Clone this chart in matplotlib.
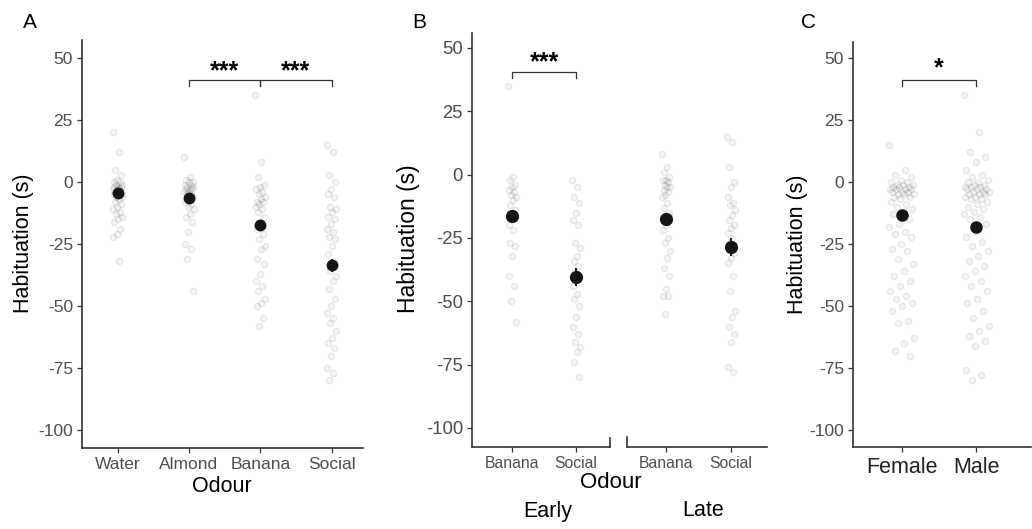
import numpy as np
import matplotlib
matplotlib.use("Agg")
import matplotlib.pyplot as plt

plt.rcParams["font.family"] = ["Liberation Sans", "DejaVu Sans"]
plt.rcParams["axes.unicode_minus"] = False

# ---- data ----
a_groups = ["Water", "Almond", "Banana", "Social"]
a_water = [20, 12, 5, 3, 1, 0, 0, -1, -1, -2, -2, -2, -3, -3, -3, -4, -4, -5, -5, -5,
           -6, -6, -7, -8, -9, -10, -11, -12, -13, -14, -15, -16, -19, -21, -22, -32]
a_almond = [10, 2, 1, 0, 0, -1, -1, -2, -2, -3, -3, -3, -4, -4, -5, -5, -6, -7, -8, -9,
            -10, -11, -13, -14, -16, -20, -25, -27, -31, -44]
a_banana = [35, 8, 2, -1, -2, -3, -4, -5, -6, -7, -8, -8, -9, -10, -11, -12, -14, -16,
            -19, -21, -23, -26, -27, -31, -33, -37, -40, -42, -44, -47, -49, -50, -55, -58]
a_social = [15, 12, 3, 0, -3, -5, -6, -10, -11, -12, -14, -15, -17, -19, -20, -22, -23,
            -26, -29, -32, -36, -38, -40, -43, -47, -50, -53, -55, -57, -60, -63, -65,
            -67, -70, -75, -77, -80]
a_means = [-4.6, -6.5, -17.3, -33.6]
a_err = [1.5, 1.5, 2.0, 2.5]

b_groups = ["Banana", "Social"]
b_early_banana = [35, -1, -2, -4, -5, -6, -7, -8, -9, -10, -12, -14, -17, -20, -22, -27,
                  -28, -32, -40, -44, -50, -58]
b_early_social = [-2, -5, -9, -11, -15, -18, -20, -27, -29, -32, -34, -36, -38, -44, -47,
                  -49, -52, -56, -60, -63, -66, -68, -70, -74, -80]
b_late_banana = [8, 3, 1, -1, -2, -2, -3, -4, -5, -5, -6, -7, -8, -9, -11, -13, -15, -20,
                 -22, -25, -27, -30, -33, -37, -40, -45, -48, -48, -55]
b_late_social = [15, 13, 3, -3, -5, -9, -11, -12, -14, -16, -18, -20, -21, -23, -25, -27,
                 -31, -33, -35, -40, -46, -54, -56, -60, -63, -66, -76, -78]
b_early_means = [-16.3, -40.3]
b_early_err = [2.5, 3.5]
b_late_means = [-17.6, -28.5]
b_late_err = [2.0, 3.5]

c_groups = ["Female", "Male"]
c_female = [15, 5, 3, 2, 1, 0, 0, -1, -1, -1, -2, -2, -2, -3, -3, -3, -3, -4, -4, -4,
            -5, -5, -5, -6, -6, -7, -8, -9, -10, -11, -12, -13, -15, -17, -18, -20, -21,
            -22, -25, -27, -28, -31, -33, -36, -38, -40, -42, -44, -46, -47, -49, -50,
            -52, -56, -57, -63, -65, -68, -70]
c_male = [35, 20, 12, 10, 8, 5, 3, 2, 1, 0, 0, -1, -1, -2, -2, -2, -3, -3, -3, -4, -4,
          -4, -5, -5, -5, -6, -6, -7, -7, -8, -9, -10, -11, -12, -13, -14, -15, -17, -20,
          -22, -24, -26, -28, -30, -32, -34, -36, -38, -40, -42, -44, -47, -49, -52, -55,
          -58, -60, -62, -64, -66, -76, -78, -80]
c_means = [-13.4, -18.2]
c_err = [1.5, 1.5]

yticks = [50, 25, 0, -25, -50, -75, -100]

# ---- layout helpers (pixel -> figure fraction) ----
W, H = 1032, 529
TICK_GREY = "#4d4d4d"
AX_GREY = "#333333"


def rect(l, r, t, b):
    return [l / W, 1 - b / H, (r - l) / W, (b - t) / H]


def fx(x):
    return x / W


def fy(y):
    return 1 - y / H


def style_axes(ax, xfs, yfs, left=True):
    for s in ["top", "right"]:
        ax.spines[s].set_visible(False)
    ax.spines["left"].set_visible(left)
    for s in ["left", "bottom"]:
        ax.spines[s].set_color(AX_GREY)
        ax.spines[s].set_linewidth(1.2)
    ax.tick_params(axis="x", colors=AX_GREY, labelcolor=TICK_GREY, labelsize=xfs,
                   length=3.5, width=0.9, pad=3)
    ax.tick_params(axis="y", colors=AX_GREY, labelcolor=TICK_GREY, labelsize=yfs,
                   length=3.5, width=0.9, pad=3, left=left, labelleft=left)
    ax.set_yticks(yticks)


def jitter_points(ax, groups_vals, width, ms):
    for i, vals in enumerate(groups_vals):
        n = len(vals)
        offs = ((np.arange(n) * 0.6180339) % 1.0 - 0.5) * 2 * width
        ax.scatter(i + 1 + offs, vals, s=ms, facecolor=(0, 0, 0, 0.04),
                   edgecolor=(0, 0, 0, 0.08), linewidths=0.9, zorder=2)


def mean_points(ax, means, errs, ms):
    x = np.arange(1, len(means) + 1)
    ax.errorbar(x, means, yerr=errs, fmt="o", color="#151515", ms=ms,
                elinewidth=1.4, capsize=0, zorder=4)


def bracket(ax, x1, x2, y, drop, label, fs, ty):
    ax.plot([x1, x1, x2, x2], [y - drop, y, y, y - drop], color=AX_GREY, lw=0.9,
            clip_on=False, zorder=3)
    ax.text((x1 + x2) / 2, ty, label, ha="center", va="center", fontsize=fs,
            fontweight="bold", color="black")


fig = plt.figure(figsize=(W / 100, H / 100), dpi=100)

# ---- panel A ----
axA = fig.add_axes(rect(82, 363, 40, 448))
jitter_points(axA, [a_water, a_almond, a_banana, a_social], 0.07, 20)
mean_points(axA, a_means, a_err, 7.5)
style_axes(axA, 12.5, 12.5)
axA.set_xticks(range(1, 5))
axA.set_xticklabels(a_groups)
axA.set_xlim(0.5, 4.44)
axA.set_ylim(-107.3, 57.3)
bracket(axA, 2, 3, 41, 2.2, "***", 18, 44.5)
bracket(axA, 3, 4, 41, 2.2, "***", 18, 44.5)
fig.text(fx(222), fy(487), "Odour", ha="center", va="center", fontsize=15.5)
fig.text(fx(23), fy(243), "Habituation (s)", rotation=90, ha="center", va="center",
         fontsize=15.5)
fig.text(fx(30), fy(22), "A", ha="center", va="center", fontsize=15)

# ---- panel B (early / late facets) ----
axB1 = fig.add_axes(rect(472, 610, 33, 447))
jitter_points(axB1, [b_early_banana, b_early_social], 0.06, 20)
mean_points(axB1, b_early_means, b_early_err, 8.5)
style_axes(axB1, 11.3, 13.3)
axB1.set_xticks([1, 2])
axB1.set_xticklabels(b_groups)
axB1.set_xlim(0.37, 2.53)
axB1.set_ylim(-107.5, 55.9)
bracket(axB1, 1, 2, 40.5, 2.2, "***", 18, 44.5)
axB1.plot([1, 1], [0, 0.022], transform=axB1.transAxes, color=AX_GREY, lw=1.2,
          clip_on=False)

axB2 = fig.add_axes(rect(627, 767, 33, 447))
jitter_points(axB2, [b_late_banana, b_late_social], 0.06, 20)
mean_points(axB2, b_late_means, b_late_err, 8.5)
style_axes(axB2, 11.3, 13.3, left=False)
axB2.set_xticks([1, 2])
axB2.set_xticklabels(b_groups)
axB2.set_xlim(0.4, 2.55)
axB2.set_ylim(-107.5, 55.9)
axB2.plot([0, 0], [0, 0.025], transform=axB2.transAxes, color=AX_GREY, lw=1.2,
          clip_on=False)

fig.text(fx(611), fy(482), "Odour", ha="center", va="center", fontsize=16)
fig.text(fx(548), fy(511), "Early", ha="center", va="center", fontsize=15.5)
fig.text(fx(703), fy(511), "Late", ha="center", va="center", fontsize=15.5)
fig.text(fx(408), fy(239), "Habituation (s)", rotation=90, ha="center", va="center",
         fontsize=16.5)
fig.text(fx(419), fy(22), "B", ha="center", va="center", fontsize=15)

# ---- panel C ----
axC = fig.add_axes(rect(853, 1031, 42, 447))
jitter_points(axC, [c_female, c_male], 0.17, 20)
mean_points(axC, c_means, c_err, 8)
style_axes(axC, 15.5, 12.5)
axC.set_xticks([1, 2])
axC.set_xticklabels(c_groups, color="black")
axC.tick_params(axis="x", labelcolor="#222222", pad=4)
axC.set_xlim(0.35, 2.73)
axC.set_ylim(-106.9, 56.5)
bracket(axC, 1, 2, 41, 2.2, "*", 18, 46)
fig.text(fx(797), fy(244), "Habituation (s)", rotation=90, ha="center", va="center",
         fontsize=15.5)
fig.text(fx(808), fy(22), "C", ha="center", va="center", fontsize=15)

fig.savefig("out.png", dpi=100)
